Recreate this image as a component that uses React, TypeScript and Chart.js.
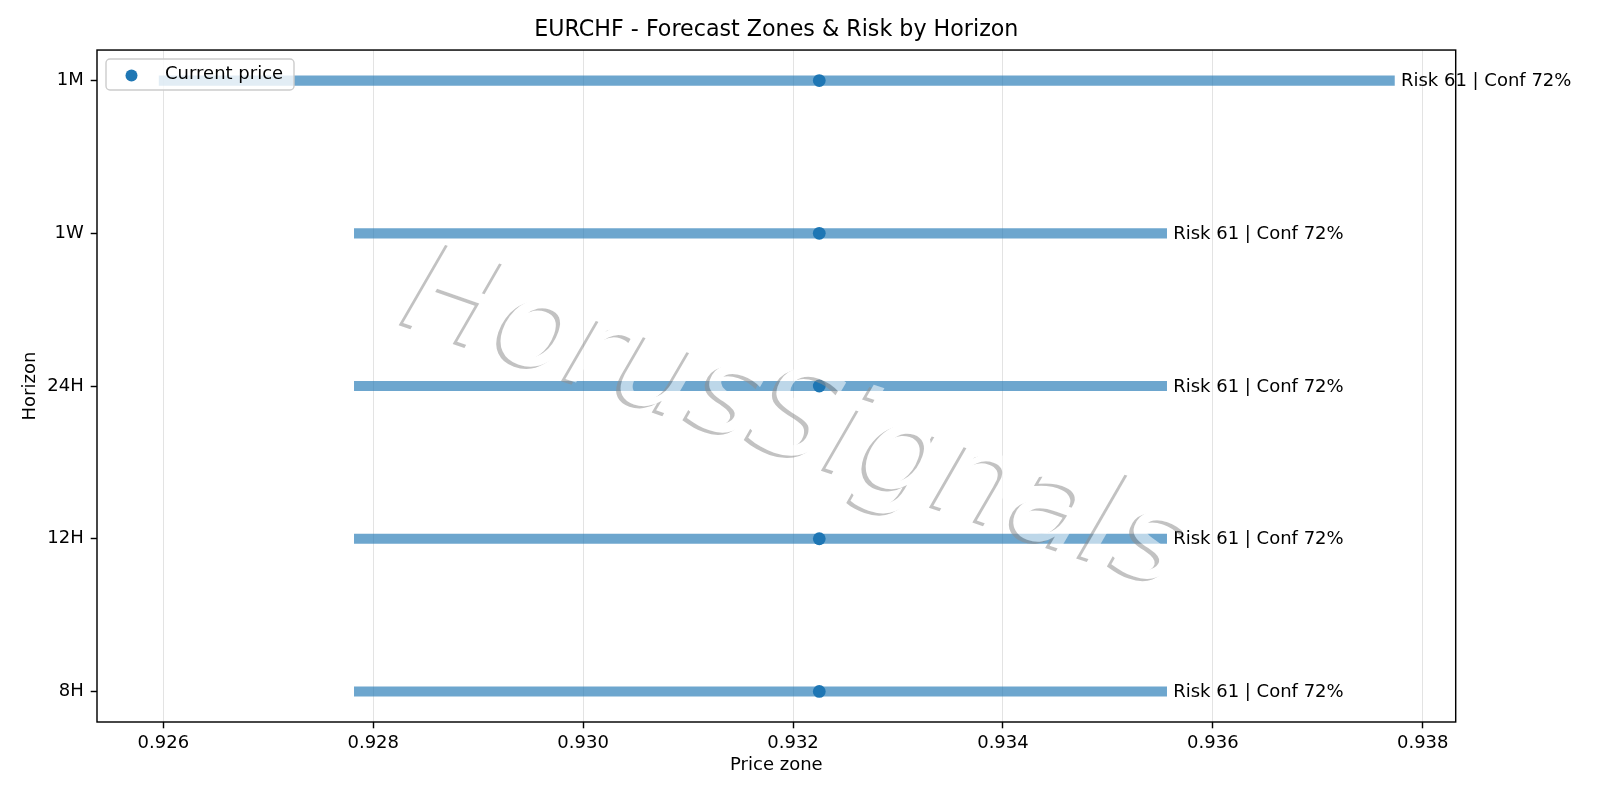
import { useEffect, useRef } from 'react';
import { Chart, registerables } from 'chart.js';

Chart.register(...registerables);

// horizons from bottom (index 0) to top
const horizons = ['8H', '12H', '24H', '1W', '1M'];
const zoneLow = [0.92782, 0.92782, 0.92782, 0.92782, 0.92596];
const zoneHigh = [0.93556, 0.93556, 0.93556, 0.93556, 0.93773];
const currentPrice = [0.93225, 0.93225, 0.93225, 0.93225, 0.93225];
const riskScores = [61, 61, 61, 61, 61];
const confidence = [72, 72, 72, 72, 72];
const priceTicks = [0.926, 0.928, 0.93, 0.932, 0.934, 0.936, 0.938];

const FONT = '"DejaVu Sans", sans-serif';
const BLUE = '#1f77b4';

const overlayPlugin = {
  id: 'overlay',
  afterDraw(chart: any) {
    const { ctx, chartArea: a, scales } = chart;
    const xs = scales.x;
    const ys = scales.y;

    // risk / confidence labels at the end of each zone
    ctx.save();
    ctx.font = `18px ${FONT}`;
    ctx.fillStyle = '#000';
    ctx.textBaseline = 'middle';
    ctx.textAlign = 'left';
    horizons.forEach((_, i) => {
      const px = xs.getPixelForValue(zoneHigh[i]);
      const py = ys.getPixelForValue(i);
      ctx.fillText(`Risk ${riskScores[i]} | Conf ${confidence[i]}%`, px + 6.5, py + 1);
    });
    ctx.restore();

    // axes frame
    ctx.save();
    ctx.strokeStyle = '#000';
    ctx.lineWidth = 1.44;
    ctx.strokeRect(a.left, a.top, a.right - a.left, a.bottom - a.top);
    ctx.restore();

    // watermark
    const dpr = chart.currentDevicePixelRatio || 1;
    const off = document.createElement('canvas');
    off.width = chart.canvas.width;
    off.height = chart.canvas.height;
    const o = off.getContext('2d')!;
    o.scale(dpr, dpr);
    o.translate(796, 424);
    o.rotate((19 * Math.PI) / 180);
    o.font = `italic 125px ${FONT}`;
    o.textAlign = 'center';
    o.textBaseline = 'middle';
    o.fillStyle = '#909090';
    o.fillText('HorusSignals', -3.5, 3.5);
    o.fillStyle = '#fff';
    o.fillText('HorusSignals', 0, 0);
    ctx.save();
    ctx.setTransform(1, 0, 0, 1, 0, 0);
    ctx.globalAlpha = 0.55;
    ctx.drawImage(off, 0, 0);
    ctx.restore();

    // legend
    const ds = chart.data.datasets[1];
    const lx = a.left + 9;
    const ly = a.top + 9;
    ctx.save();
    ctx.beginPath();
    ctx.roundRect(lx, ly, 188, 31, 4);
    ctx.fillStyle = 'rgba(255,255,255,0.8)';
    ctx.fill();
    ctx.strokeStyle = '#cccccc';
    ctx.lineWidth = 1.4;
    ctx.stroke();
    ctx.beginPath();
    ctx.arc(lx + 25.5, ly + 16.5, 6, 0, Math.PI * 2);
    ctx.fillStyle = ds.backgroundColor;
    ctx.fill();
    ctx.font = `18px ${FONT}`;
    ctx.fillStyle = '#000';
    ctx.textBaseline = 'middle';
    ctx.fillText(ds.label, lx + 59, ly + 15.5);
    ctx.restore();
  },
};

export default function App() {
  const chartRef = useRef<HTMLCanvasElement | null>(null);
  const chartInstance = useRef<Chart | null>(null);

  useEffect(() => {
    const ctx = chartRef.current?.getContext('2d');
    if (!ctx) return;

    if (chartInstance.current) chartInstance.current.destroy();

    chartInstance.current = new Chart(ctx, {
      type: 'bar',
      data: {
        datasets: [
          {
            type: 'bar',
            label: 'Forecast zone',
            data: horizons.map((_, i) => ({ x: [zoneLow[i], zoneHigh[i]], y: i })) as any,
            backgroundColor: 'rgba(31,119,180,0.65)',
            borderWidth: 0,
            barThickness: 9.5,
          },
          {
            type: 'scatter',
            label: 'Current price',
            data: horizons.map((_, i) => ({ x: currentPrice[i], y: i })),
            backgroundColor: BLUE,
            borderWidth: 0,
            pointRadius: 6.4,
          } as any,
        ],
      },
      options: {
        indexAxis: 'y',
        responsive: false,
        animation: false,
        layout: { padding: { left: 0, top: 0, right: 144.3, bottom: 0 } },
        plugins: {
          legend: { display: false },
          tooltip: { enabled: false },
          title: {
            display: true,
            fullSize: false,
            text: 'EURCHF - Forecast Zones & Risk by Horizon',
            color: '#000',
            font: { family: FONT, size: 22.2, weight: 'normal' },
            padding: { top: 17.3, bottom: 6.1 },
          },
        },
        scales: {
          x: {
            type: 'linear',
            min: 0.925368,
            max: 0.938314,
            beginAtZero: false,
            afterBuildTicks: (s: any) => {
              s.ticks = priceTicks.map((v) => ({ value: v }));
            },
            afterFit: (s: any) => {
              s.height = 78;
            },
            ticks: {
              color: '#000',
              font: { family: FONT, size: 18 },
              padding: 4,
              callback: (v: any) => Number(v).toFixed(3),
            },
            grid: { color: 'rgba(0,0,0,0.11)', tickLength: 6.3, tickColor: '#000', tickWidth: 1.44 },
            border: { display: false },
            title: {
              display: true,
              text: 'Price zone',
              color: '#000',
              font: { family: FONT, size: 18 },
              padding: { top: 0, bottom: 24.2 },
            },
          },
          y: {
            type: 'linear',
            min: -0.2,
            max: 4.2,
            offset: false,
            afterBuildTicks: (s: any) => {
              s.ticks = horizons.map((_, i) => ({ value: i }));
            },
            afterFit: (s: any) => {
              s.width = 97;
            },
            ticks: {
              color: '#000',
              font: { family: FONT, size: 18 },
              padding: 7,
              callback: (v: any) => horizons[v],
            },
            grid: { drawOnChartArea: false, offset: false, tickLength: 6.3, tickColor: '#000', tickWidth: 1.44 },
            border: { display: false },
            title: {
              display: true,
              text: 'Horizon',
              color: '#000',
              font: { family: FONT, size: 18 },
              padding: { top: 19.8, bottom: 0 },
            },
          },
        },
      },
      plugins: [overlayPlugin],
    });

    return () => {
      chartInstance.current?.destroy();
      chartInstance.current = null;
    };
  }, []);

  return (
    <div style={{ position: 'absolute', left: 0, top: 0, width: 1600, height: 800, background: '#fff' }}>
      <canvas ref={chartRef} width={1600} height={800}></canvas>
    </div>
  );
}
